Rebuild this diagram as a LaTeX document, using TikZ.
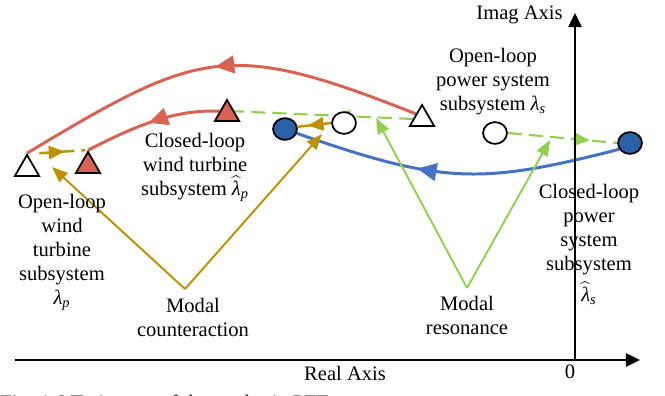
\documentclass[tikz,border=0pt]{standalone}
\usepackage{fontspec}
\setmainfont{Liberation Serif}
\usetikzlibrary{arrows.meta,decorations.markings,shapes.geometric,backgrounds}

\definecolor{trajred}{RGB}{218,98,82}
\definecolor{trajblue}{RGB}{68,114,196}
\definecolor{dotblue}{RGB}{41,98,168}
\definecolor{trajgreen}{RGB}{146,208,80}
\definecolor{trajgold}{RGB}{191,144,0}

% eigenvalue symbols
\newcommand\lamsym{\mbox{\itshape λ}}
\newcommand\lamsub[1]{\lamsym\textsubscript{\itshape #1}}
\newcommand\lamhatsub[1]{\ensuremath{\widehat{\lamsym}}\textsubscript{\itshape #1}}

\tikzset{
  bighead/.tip={Triangle[length=11pt,width=10pt]},
  dashhead/.tip={Triangle[length=9pt,width=7.5pt]},
  pointer/.tip={Triangle[length=9pt,width=7pt]},
  axistip/.tip={Triangle[length=8pt,width=7.5pt]},
  midtip/.style 2 args={postaction={decorate,decoration={markings,
      mark=at position #1 with {\arrow{#2}}}}},
  lbl/.style={font=\fontsize{11.7}{13.6}\selectfont, inner sep=0pt, align=center},
  tri/.style={regular polygon, regular polygon sides=3, minimum size=16pt,
      inner sep=0pt, draw=black, line width=1pt},
  opentri/.style={tri, fill=white},
  redtri/.style={tri, fill=trajred},
  dot/.style={ellipse, minimum width=13.6pt, minimum height=12.4pt,
      inner sep=0pt, draw=black, line width=1pt},
  bluedot/.style={dot, fill=dotblue},
  opendot/.style={dot, fill=white},
  redpath/.style={draw=trajred, line width=1.7pt},
  bluepath/.style={draw=trajblue, line width=1.7pt},
  greendash/.style={draw=trajgreen, line width=1.2pt, dash pattern=on 8pt off 4pt},
  golddash/.style={draw=trajgold, line width=1.4pt, dash pattern=on 8pt off 4pt},
  greenline/.style={draw=trajgreen, line width=1.1pt, -{pointer}},
  goldline/.style={draw=trajgold, line width=1.1pt, -{pointer}},
  axisline/.style={draw=black, line width=1.2pt},
}

\begin{document}
\begin{tikzpicture}[x=0.02cm, y=-0.02cm]
\useasboundingbox (0,0) rectangle (665,395);

% axes
\coordinate (xL) at (15,360);
\coordinate (xR) at (640,360);
\coordinate (O) at (575,360);
\coordinate (yT) at (575,13);
\draw[axisline, -{axistip}] (xL) -- (xR);
\draw[axisline, -{axistip}] (O) -- (yT);

% labels
\node[lbl, anchor=base east] (lImag) at (563,20) {Imag Axis};
\node[lbl, anchor=base] (lReal) at (345,380) {Real Axis};
\node[lbl, anchor=base] (lZero) at (570,378) {0};
\node[lbl, anchor=north] (lOLW) at (62,194) {Open-loop\\wind\\turbine\\subsystem\\\lamsub{p}};
\node[lbl, anchor=north] (lCLW) at (195,133) {Closed-loop\\wind turbine\\subsystem \lamhatsub{p}};
\node[lbl, anchor=north] (lOLP) at (493,48) {Open-loop\\power system\\subsystem \lamsub{s}};
\node[lbl, anchor=north] (lCLP) at (589,184) {Closed-loop\\power\\system\\subsystem\\[3pt]\lamhatsub{s}};
\node[lbl, anchor=north] (lMC) at (193,298) {Modal\\counteraction};
\node[lbl, anchor=north] (lMR) at (467,296) {Modal\\resonance};
\begin{scope}
  \clip (0,0) rectangle (665,395);
  \node[lbl, anchor=base west] (cap) at (0,409) {Fig. 1.6 Trajectory of the modes in PFT};
\end{scope}

% eigenvalue markers
\node[opentri] (tOL) at (27,169) {};
\node[redtri]  (tRL) at (88,166) {};
\node[redtri]  (tRT) at (227,114) {};
\node[opentri] (tOR) at (422,119) {};
\node[bluedot] (bL) at (285,129) {};
\node[opendot] (oM) at (344,123) {};
\node[opendot] (oR) at (495,133) {};
\node[bluedot] (bR) at (630,143) {};

% pointer ends
\coordinate (vC) at (185,289);
\coordinate (vR) at (467,288);
\coordinate (cTipL) at (52,167);
\coordinate (cTipR) at (322,134);
\coordinate (rTipL) at (376,118);
\coordinate (rTipR) at (550,140);

\begin{scope}[on background layer]
  % mode trajectories
  \draw[redpath, midtip={0.5}{bighead}] (tOR.140) .. controls (227,39) and (199,50) .. (tOL.corner 1);
  \draw[redpath, midtip={0.52}{bighead}] (tRT.160) .. controls (175,109) and (135,126) .. (tRL.corner 1);
  \draw[bluepath, midtip={0.62}{bighead}] (bR.210) .. controls (480,185) and (442,184) .. (bL.-20);
  \draw[greendash, midtip={0.44}{dashhead}] (tOR.180) -- (tRT.20);
  \draw[greendash, midtip={0.75}{dashhead}] (oR.east) -- (bR.west);
  \draw[golddash, midtip={0.55}{dashhead}] ([xshift=7pt]tOL.corner 1) -- ([xshift=-1.5pt]tRL.corner 1);
  \draw[golddash, midtip={0.7}{dashhead}] (oM.west) -- (bL.10);
  % interaction pointers
  \draw[goldline] (vC) -- (cTipL);
  \draw[goldline] (vC) -- (cTipR);
  \draw[greenline] (vR) -- (rTipL);
  \draw[greenline] (vR) -- (rTipR);
\end{scope}
\end{tikzpicture}
\end{document}
